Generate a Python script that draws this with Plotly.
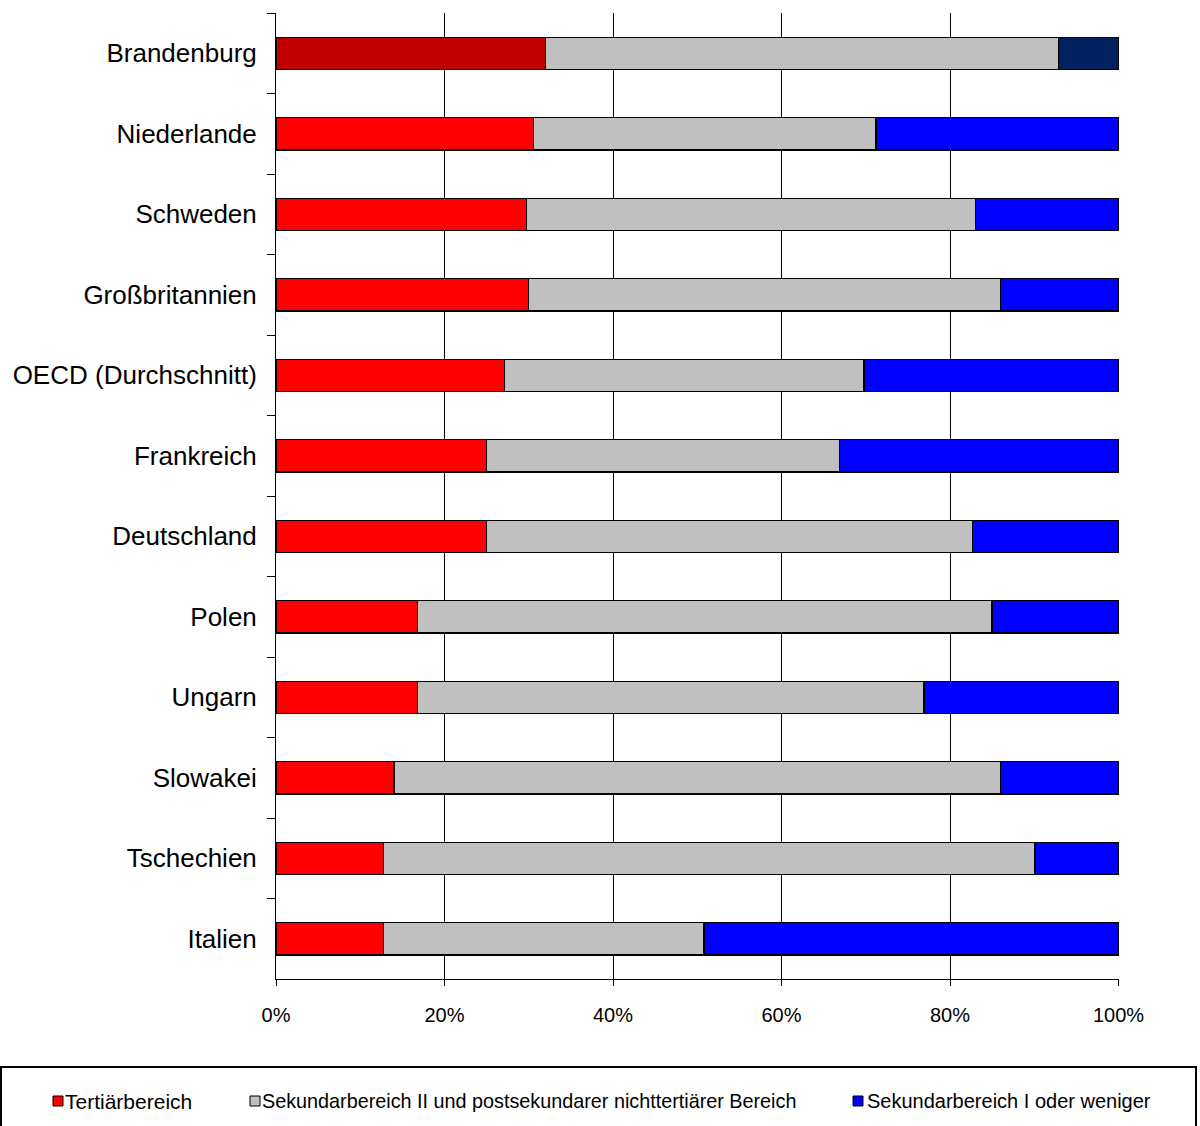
import plotly.graph_objects as go

categories = ["Brandenburg", "Niederlande", "Schweden", "Großbritannien",
              "OECD (Durchschnitt)", "Frankreich", "Deutschland", "Polen",
              "Ungarn", "Slowakei", "Tschechien", "Italien"]
tertiaer = [32.0, 30.6, 29.7, 30.0, 27.1, 25.0, 25.0, 16.8, 16.8, 14.0, 12.8, 12.8]
sek2 = [60.9, 40.6, 53.3, 56.0, 42.7, 41.9, 57.7, 68.2, 60.1, 72.0, 77.3, 38.0]
sek1 = [7.1, 28.8, 17.0, 14.0, 30.2, 33.1, 17.3, 15.0, 23.1, 14.0, 9.9, 49.2]
series_names = ["Tertiärbereich",
                "Sekundarbereich II und postsekundarer nichttertiärer Bereich",
                "Sekundarbereich I oder weniger"]
x_ticks = [0, 20, 40, 60, 80, 100]
x_tick_labels = ["0%", "20%", "40%", "60%", "80%", "100%"]

base_colors = ["#FF0000", "#C0C0C0", "#0000FF"]
highlight_colors = ["#C00000", "#C0C0C0", "#002060"]

W, H = 1200, 1126
L, T = 276, 13
R = W - 1119
B = H - 979
pw, ph = W - L - R, H - T - B

FONT = "Liberation Sans, Arial, sans-serif"

fig = go.Figure()
for i, (name, vals) in enumerate(zip(series_names, [tertiaer, sek2, sek1])):
    cols = [highlight_colors[i] if c == "Brandenburg" else base_colors[i] for c in categories]
    fig.add_trace(go.Bar(
        y=categories, x=vals, name=name, orientation="h",
        marker=dict(color=cols, line=dict(color="#000000", width=1.3)),
        showlegend=False,
    ))

def px_x(px):
    return (px - L) / pw

def px_y(py):
    return (H - B - py) / ph

shapes = []
annotations = []
# legend box
shapes.append(dict(type="rect", xref="paper", yref="paper",
                   x0=px_x(1), x1=px_x(1196), y0=px_y(1150), y1=px_y(1067),
                   line=dict(color="#000000", width=2), fillcolor="rgba(0,0,0,0)"))
legend_sq_x = [53, 250, 853]
legend_txt_x = [64, 261, 866]
legend_sizes = [21, 19.8, 20]
for i, name in enumerate(series_names):
    shapes.append(dict(type="rect", xref="paper", yref="paper",
                       x0=px_x(legend_sq_x[i]), x1=px_x(legend_sq_x[i] + 10),
                       y0=px_y(1106), y1=px_y(1096),
                       line=dict(color="#000000", width=1), fillcolor=base_colors[i]))
    annotations.append(dict(xref="paper", yref="paper", x=px_x(legend_txt_x[i]),
                            y=px_y(1101), text=name, showarrow=False,
                            xanchor="left", yanchor="middle", borderpad=0,
                            font=dict(family=FONT, size=legend_sizes[i],
                                      color="#000000")))

fig.update_layout(
    width=W, height=H,
    margin=dict(l=L, r=R, t=T, b=B, pad=0),
    barmode="stack", bargap=0.6,
    plot_bgcolor="#FFFFFF", paper_bgcolor="#FFFFFF",
    font=dict(family=FONT, color="#000000"),
    shapes=shapes, annotations=annotations,
    hovermode=False,
    xaxis=dict(range=[0, 100.06], tickvals=x_ticks, ticktext=x_tick_labels,
               tickmode="array",
               showgrid=True, gridcolor="#000000", gridwidth=1,
               showline=True, linecolor="#000000", linewidth=1,
               ticks="outside", ticklen=6, tickcolor="#000000",
               tickfont=dict(size=20, family=FONT), zeroline=False,
               ticklabelstandoff=12, fixedrange=True),
    yaxis=dict(autorange="reversed", type="category",
               tickson="boundaries", ticks="outside", ticklen=8,
               tickcolor="#000000", showline=True, linecolor="#000000",
               linewidth=1, showgrid=False, zeroline=False,
               tickfont=dict(size=26, family=FONT), ticklabelstandoff=13,
               fixedrange=True),
)

fig.write_html("out.html", config={"displayModeBar": False},
               post_script="document.body.style.margin='0';document.body.style.overflow='hidden';")
